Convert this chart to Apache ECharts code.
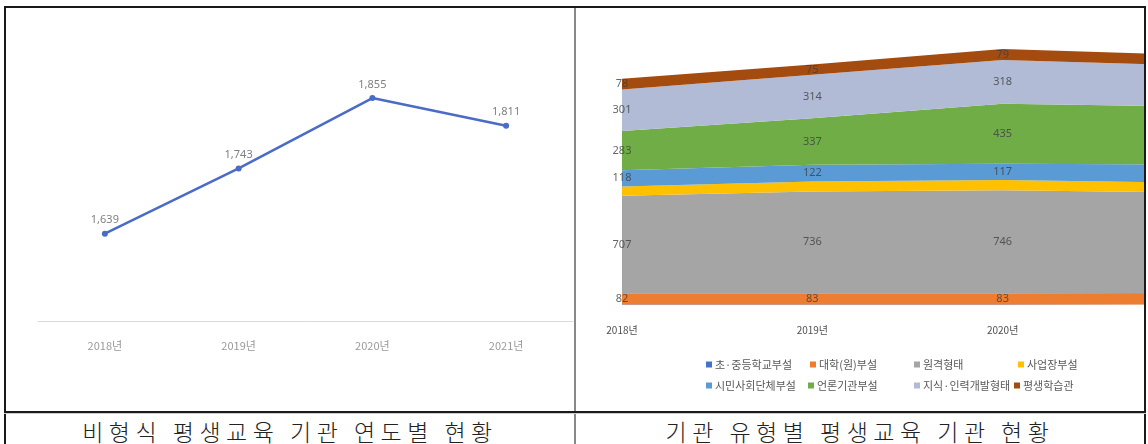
<!DOCTYPE html>
<html><head><meta charset="utf-8">
<script src="https://cdn.jsdelivr.net/npm/echarts@6/dist/echarts.min.js"></script>
<style>
html,body{margin:0;padding:0;background:#fff;width:1148px;height:444px;overflow:hidden;}
.ln{position:absolute;z-index:5;}
#c1{position:absolute;left:0;top:0;width:574px;height:412px;}
#wrap2{position:absolute;left:576px;top:8px;width:568px;height:404px;overflow:hidden;}
#c2{position:absolute;left:0;top:0;width:700px;height:404px;}
.cap{position:absolute;top:416px;height:30px;font-family:"Noto Sans CJK KR Light","Noto Sans CJK KR";font-weight:300;font-size:23px;color:#222;text-align:center;line-height:30px;letter-spacing:5.5px;white-space:nowrap;}
</style></head>
<body>
<div id="c1"></div>
<div id="wrap2"><div id="c2"></div></div>
<div class="ln" style="left:4px;top:6px;width:1142px;height:2px;background:#1a1a1a"></div>
<div class="ln" style="left:4px;top:6px;width:2px;height:438px;background:#1a1a1a"></div>
<div class="ln" style="left:1144px;top:6px;width:2px;height:438px;background:#1a1a1a"></div>
<div class="ln" style="left:574px;top:8px;width:2px;height:436px;background:#888"></div>
<div class="ln" style="left:4px;top:411px;width:1142px;height:2px;background:#1a1a1a"></div>
<div class="ln" style="left:4px;top:413px;width:1142px;height:1px;background:#ccc"></div>
<div class="cap" id="cap1" style="left:6px;width:568px;">비형식 평생교육 기관 연도별 현황</div>
<div class="cap" id="cap2" style="left:576px;width:568px;">기관 유형별 평생교육 기관 현황</div>
<script>
// ---- data ----
const years = ['2018년', '2019년', '2020년', '2021년'];
const totals = [1639, 1743, 1855, 1811];

const typeNames = ['초·중등학교부설', '대학(원)부설', '원격형태', '사업장부설', '시민사회단체부설', '언론기관부설', '지식·인력개발형태', '평생학습관'];
const elemSchool = [3, 3, 3, 3];
const university = [82, 83, 83, 84];
const remote = [707, 736, 746, 728];
const workplace = [67, 73, 74, 70];
const civic = [118, 122, 117, 133];
const media = [283, 337, 435, 420];
const knowledge = [301, 314, 318, 298];
const center = [78, 75, 79, 75];

// ---- chart 1 ----
const c1 = echarts.init(document.getElementById('c1'));
c1.setOption({
  animation: false,
  grid: {left: 38, top: 7, width: 535, height: 314},
  xAxis: {
    type: 'category', data: years, boundaryGap: true,
    axisLine: {show: true, lineStyle: {color: '#d9d9d9', width: 1}},
    axisTick: {show: false},
    axisLabel: {color: '#999999', fontSize: 11, margin: 19, fontFamily: 'Noto Sans CJK KR'}
  },
  yAxis: {type: 'value', min: 1500, max: 2000, show: false, splitLine: {show: false}},
  series: [{
    type: 'line', data: totals,
    lineStyle: {color: '#4a6bc6', width: 2.5},
    itemStyle: {color: '#4a6bc6'},
    symbol: 'circle', symbolSize: 6,
    label: {show: true, position: 'top', distance: 5, color: '#808080', fontSize: 11, fontFamily: 'Noto Sans',
      formatter: p => p.value.toLocaleString('en-US')}
  }]
});

// ---- chart 2 ----
const seriesVals = [elemSchool, university, remote, workplace, civic, media, knowledge, center];
const colors = ['#4472C4', '#ED7D31', '#A5A5A5', '#FFC000', '#5B9BD5', '#70AD47', '#B1BBD6', '#A44B10'];
const showLabel = [false, true, true, false, true, true, true, true];

const series = [];
seriesVals.forEach((vals, k) => {
  series.push({
    name: typeNames[k], type: 'line', stack: 'all', data: vals,
    symbol: 'none', lineStyle: {width: 0}, itemStyle: {color: colors[k]},
    areaStyle: {color: colors[k], opacity: 1}
  });
});
// centred value labels for each band
const base = years.map(() => 0);
seriesVals.forEach((vals, k) => {
  if (showLabel[k]) {
    series.push({
      type: 'scatter', symbolSize: 0, silent: true,
      data: vals.map((v, i) => [i, base[i] + v / 2]),
      label: {show: true, position: 'inside', color: '#404040', fontSize: 11, fontFamily: 'Noto Sans',
        formatter: p => String(vals[p.dataIndex])},
      z: 10
    });
  }
  vals.forEach((v, i) => { base[i] += v; });
});

const legendPos = [
  [130, 351], [234, 351], [338, 351], [442, 351],
  [130, 372], [232, 372], [338, 372], [438, 372]
];
const legends = typeNames.map((n, k) => ({
  data: [n], left: legendPos[k][0], top: legendPos[k][1], padding: 0,
  icon: 'rect', itemWidth: 6, itemHeight: 6, itemGap: 0,
  textStyle: {color: '#595959', fontSize: 11, fontFamily: 'Noto Sans CJK KR', padding: [0, 0, 0, -2]},
  selectedMode: false
}));

const c2 = echarts.init(document.getElementById('c2'));
c2.setOption({
  animation: false,
  color: colors,
  legend: legends,
  grid: {left: 46, top: 21, width: 571, height: 276},
  xAxis: {
    type: 'category', data: years, boundaryGap: false,
    axisLine: {show: false}, axisTick: {show: false},
    axisLabel: {color: '#505050', fontSize: 10, margin: 20, fontFamily: 'Noto Sans CJK KR'}
  },
  yAxis: {type: 'value', min: 0, max: 2000, show: false, splitLine: {show: false}},
  series: series
});
</script>
</body></html>
